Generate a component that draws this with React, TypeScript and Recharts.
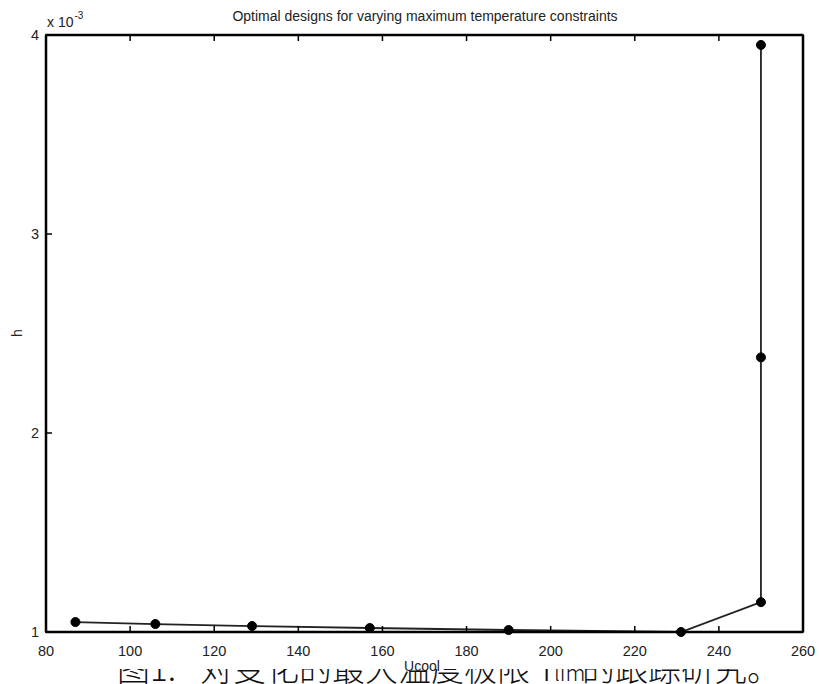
import { Line, LineChart, XAxis, YAxis } from "recharts";

// Ucool vs h (h in units of 1e-3)
const ucool = [87, 106, 129, 157, 190, 231, 250, 250, 250];
const hScaled = [1.05, 1.04, 1.03, 1.02, 1.01, 1.0, 1.15, 2.38, 3.95];
const xTicks = [80, 100, 120, 140, 160, 180, 200, 220, 240, 260];
const yTicks = [1, 2, 3, 4];

const data = ucool.map((u, i) => ({ u, h: hScaled[i] }));

const FONT = "'Liberation Sans', Arial, sans-serif";
const TICK = 7;

function BottomTick(props: any) {
  const { x, y, payload } = props;
  return (
    <g>
      <line x1={x} y1={y - 1} x2={x} y2={y - 1 - TICK} stroke="#000" strokeWidth={1.5} />
      <text x={x} y={y + 22} textAnchor="middle" fontFamily={FONT} fontSize={14.5} fill="#222">
        {payload.value}
      </text>
    </g>
  );
}

function TopTick(props: any) {
  const { x, y } = props;
  return <line x1={x} y1={y + 1} x2={x} y2={y + 1 + TICK} stroke="#000" strokeWidth={1.5} />;
}

function LeftTick(props: any) {
  const { x, y, payload } = props;
  return (
    <g>
      <line x1={x + 1} y1={y} x2={x + 1 + TICK} y2={y} stroke="#000" strokeWidth={1.5} />
      <text x={x - 5} y={y + 5} textAnchor="end" fontFamily={FONT} fontSize={14.5} fill="#222">
        {payload.value}
      </text>
    </g>
  );
}

function RightTick(props: any) {
  const { x, y } = props;
  return <line x1={x - 1} y1={y} x2={x - 1 - TICK} y2={y} stroke="#000" strokeWidth={1.5} />;
}

export default function App() {
  return (
    <div style={{ position: "absolute", left: 0, top: 0, width: 819, height: 684, overflow: "hidden", background: "#fff" }}>
      {/* caption sits behind the figure, only its lower strip shows */}
      <svg width={819} height={684} style={{ position: "absolute", left: 0, top: 0 }}>
        <text y={681} fontFamily="'Noto Sans CJK SC', sans-serif" fontSize={33} fontWeight={300} fill="#111">
          <tspan x={117}>图</tspan>
          <tspan x={150}>1.</tspan>
          <tspan x={200}>对变化的最大温度极限</tspan>
          <tspan x={537}>T</tspan>
          <tspan x={554} fontSize={22}>lim</tspan>
          <tspan x={582}>的跟踪研究。</tspan>
        </text>
      </svg>
      <div style={{ position: "absolute", left: 0, top: 0, width: 819, height: 669, overflow: "hidden", background: "#fff" }}>
        <LineChart width={819} height={684} data={data} margin={{ top: 34, right: 15, bottom: 51, left: 45 }}>
          <XAxis
            dataKey="u"
            type="number"
            domain={[80, 260]}
            ticks={xTicks}
            height={1}
            tickSize={0}
            tickLine={false}
            axisLine={{ stroke: "#000", strokeWidth: 2.5 }}
            tick={<BottomTick />}
            interval={0}
          />
          <XAxis
            xAxisId="top"
            orientation="top"
            dataKey="u"
            type="number"
            domain={[80, 260]}
            ticks={xTicks}
            height={1}
            tickSize={0}
            tickLine={false}
            axisLine={{ stroke: "#000", strokeWidth: 2.5 }}
            tick={<TopTick />}
            interval={0}
          />
          <YAxis
            type="number"
            domain={[1, 4]}
            ticks={yTicks}
            width={1}
            tickSize={0}
            tickLine={false}
            axisLine={{ stroke: "#000", strokeWidth: 2.5 }}
            tick={<LeftTick />}
            interval={0}
          />
          <YAxis
            yAxisId="right"
            orientation="right"
            type="number"
            domain={[1, 4]}
            ticks={yTicks}
            width={1}
            tickSize={0}
            tickLine={false}
            axisLine={{ stroke: "#000", strokeWidth: 2.5 }}
            tick={<RightTick />}
            interval={0}
          />
          <Line
            dataKey="h"
            type="linear"
            stroke="#222"
            strokeWidth={1.8}
            dot={{ r: 4.5, fill: "#000", stroke: "#000", strokeWidth: 1 }}
            isAnimationActive={false}
          />
        </LineChart>
      </div>
      <svg width={819} height={684} style={{ position: "absolute", left: 0, top: 0, pointerEvents: "none" }}>
        <text x={425} y={21} textAnchor="middle" fontFamily={FONT} fontSize={14} fill="#222">
          Optimal designs for varying maximum temperature constraints
        </text>
        <text x={47} y={27} fontFamily={FONT} fontSize={14} fill="#222">
          x 10
          <tspan dx={1} dy={-8} fontSize={10}>-3</tspan>
        </text>
        <text
          x={22}
          y={333}
          transform="rotate(-90 22 333)"
          textAnchor="middle"
          fontFamily={FONT}
          fontSize={14}
          fill="#222"
        >
          h
        </text>
        <text x={422} y={671} textAnchor="middle" fontFamily={FONT} fontSize={14} fill="#222">
          Ucool
        </text>
      </svg>
    </div>
  );
}
